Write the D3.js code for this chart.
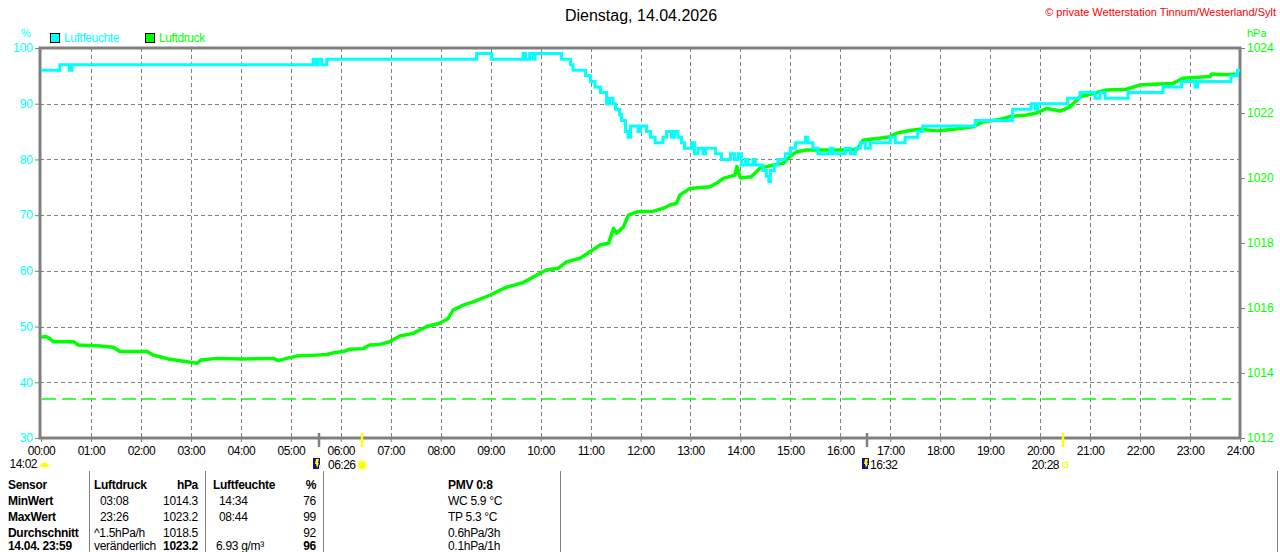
<!DOCTYPE html>
<html>
<head>
<meta charset="utf-8">
<script src="https://cdn.jsdelivr.net/npm/d3@7/dist/d3.min.js"></script>
<style>
  html, body { margin: 0; padding: 0; background: #fff; }
  svg { display: block; font-family: "Liberation Sans", Arial, sans-serif; }
</style>
</head>
<body>
<svg id="chart" width="1280" height="552"></svg>
<script>
// ---------- data ----------
const titleText = "Dienstag, 14.04.2026";
const copyrightText = "© private Wetterstation Tinnum/Westerland/Sylt";
const seriesNames = ["Luftfeuchte", "Luftdruck"];
const hourTicks = d3.range(0, 25);
const humTicks = [30, 40, 50, 60, 70, 80, 90, 100];
const presTicks = [1012, 1014, 1016, 1018, 1020, 1022, 1024];

// Luftfeuchte (%) : time in hours, value
const humTime = [0, 0.38, 0.57, 0.62, 5.45, 5.5, 5.55, 5.62, 5.72, 8.72, 9.02, 9.65, 9.7, 9.78, 9.85, 9.89, 10.42,
  10.6, 10.65, 10.9, 11.0, 11.09, 11.2, 11.32, 11.38, 11.45, 11.5, 11.58, 11.62, 11.7, 11.75, 11.8, 11.95, 12.0,
  12.12, 12.2, 12.29, 12.45, 12.52, 12.62, 12.68, 12.75, 12.82, 12.88, 13.02, 13.08, 13.15, 13.25, 13.3, 13.5,
  13.62, 13.8, 13.88, 13.95, 14.02, 14.1, 14.15, 14.25, 14.3, 14.45, 14.52, 14.57, 14.6, 14.68, 14.75, 14.9,
  15.0, 15.1, 15.3, 15.35, 15.45, 15.55, 15.8, 15.85, 16.1, 16.2, 16.3, 16.4, 16.5, 16.6, 17.0, 17.1, 17.3,
  17.55, 17.65, 18.7, 19.45, 19.82, 19.9, 19.95, 20.55, 20.8, 21.1, 21.2, 21.3, 21.76, 22.46, 22.83, 23.1,
  23.15, 23.82, 23.95, 24];
const humVal = [96, 97, 96, 97, 98, 97, 98, 97, 98, 99, 98, 99, 98, 99, 98, 99, 98,
  97, 96, 95, 94, 93, 92, 90, 91, 90, 89, 88, 87, 85, 84, 86, 85, 86,
  85, 84, 83, 84, 85, 84, 85, 84, 83, 82, 83, 81, 82, 81, 82, 81,
  80, 81, 80, 81, 79, 80, 79, 80, 79, 78, 77, 76, 78, 79, 80, 81,
  82, 83, 84, 83, 82, 81, 82, 81, 82, 81, 82, 83, 82, 83, 84, 83, 84,
  85, 86, 87, 89, 90, 89, 90, 91, 92, 91, 92, 91, 92, 93, 94, 93,
  94, 95, 96, 96];

// Luftdruck (hPa) : time in hours, value
const presTime = [0, 0.1, 0.18, 0.25, 0.65, 0.75, 1.18, 1.45, 1.58, 2.12, 2.25, 2.38, 2.58, 3.13, 3.2, 3.52, 4.0,
  4.65, 4.75, 4.92, 5.12, 5.52, 5.72, 5.85, 6.05, 6.18, 6.45, 6.58, 6.78, 6.98, 7.18, 7.45, 7.72, 7.98, 8.15,
  8.25, 8.45, 8.65, 8.99, 9.32, 9.65, 9.99, 10.12, 10.35, 10.52, 10.79, 10.99, 11.19, 11.36, 11.46, 11.52, 11.66,
  11.76, 11.93, 12.26, 12.46, 12.59, 12.72, 12.79, 12.99, 13.39, 13.52, 13.66, 13.89, 13.93, 14.0, 14.22, 14.39,
  14.66, 14.86, 14.99, 15.13, 15.33, 15.99, 16.33, 16.46, 16.79, 16.99, 17.13, 17.39, 17.59, 17.93, 18.13, 18.39,
  18.66, 18.86, 19.19, 19.39, 19.73, 19.93, 20.13, 20.4, 20.6, 20.8, 21.06, 21.33, 21.73, 21.99, 22.39, 22.66,
  22.86, 23.4, 23.43, 23.73, 23.98];
const presVal = [1015.1, 1015.12, 1015.05, 1014.96, 1014.96, 1014.86, 1014.83, 1014.79, 1014.66, 1014.66, 1014.55,
  1014.5, 1014.42, 1014.3, 1014.4, 1014.45, 1014.43, 1014.45, 1014.38, 1014.45, 1014.52, 1014.55, 1014.57,
  1014.62, 1014.66, 1014.73, 1014.75, 1014.86, 1014.88, 1014.96, 1015.14, 1015.22, 1015.43, 1015.53, 1015.68,
  1015.94, 1016.09, 1016.19, 1016.4, 1016.64, 1016.78, 1017.07, 1017.17, 1017.22, 1017.42, 1017.53, 1017.73,
  1017.94, 1017.99, 1018.45, 1018.3, 1018.5, 1018.86, 1018.96, 1018.98, 1019.07, 1019.17, 1019.22, 1019.48,
  1019.68, 1019.73, 1019.84, 1019.99, 1020.09, 1020.35, 1020.0, 1020.04, 1020.3, 1020.4, 1020.45, 1020.66,
  1020.81, 1020.86, 1020.86, 1020.88, 1021.17, 1021.22, 1021.27, 1021.38, 1021.46, 1021.5, 1021.45, 1021.48,
  1021.52, 1021.58, 1021.73, 1021.8, 1021.89, 1021.94, 1022.0, 1022.14, 1022.06, 1022.19, 1022.5, 1022.6,
  1022.71, 1022.73, 1022.86, 1022.89, 1022.91, 1023.07, 1023.12, 1023.2, 1023.18, 1023.2];

const refPressure = 1013.2;
const sunriseTime = 6 + 26 / 60, sunsetTime = 20 + 28 / 60;
const moonriseTime = 5 + 34 / 60, moonsetTime = 16 + 32 / 60;
const dayLength = "14:02", sunriseLabel = "06:26", sunsetLabel = "20:28", moonsetLabel = "16:32";

// table
const tableCol0 = ["Sensor", "MinWert", "MaxWert", "Durchschnitt", "14.04. 23:59"];
const tableCol1 = ["Luftdruck", "03:08", "23:26", "^1.5hPa/h", "veränderlich"];
const tableCol2 = ["hPa", "1014.3", "1023.2", "1018.5", "1023.2"];
const tableCol3 = ["Luftfeuchte", "14:34", "08:44", "", "6.93 g/m³"];
const tableCol4 = ["%", "76", "99", "92", "96"];
const tableCol5 = ["PMV 0:8", "WC 5.9 °C", "TP 5.3 °C", "0.6hPa/3h", "0.1hPa/1h"];

// ---------- drawing ----------
const svg = d3.select("#chart");
const CYAN = "#00ffff", GREEN = "#00ff00", GRAY = "#808080";
const L = 40, R = 1240, T = 48, B = 438;

const x = d3.scaleLinear().domain([0, 24]).range([L + 1, R]);
const yH = d3.scaleLinear().domain([30, 100]).range([B, T]);
const yP = d3.scaleLinear().domain([1012, 1024]).range([B, T]);

svg.append("rect").attr("width", 1280).attr("height", 552).attr("fill", "#fff");

// grid
const grid = svg.append("g").attr("stroke", GRAY).attr("stroke-width", 1).attr("stroke-dasharray", "4,3");
grid.selectAll("line.h").data(humTicks.slice(1, -1)).join("line")
  .attr("x1", L).attr("x2", R).attr("y1", d => Math.round(yH(d)) + 0.5).attr("y2", d => Math.round(yH(d)) + 0.5);
grid.selectAll("line.v").data(hourTicks.slice(1, -1)).join("line")
  .attr("x1", d => Math.round(x(d)) + 0.5).attr("x2", d => Math.round(x(d)) + 0.5).attr("y1", T).attr("y2", B);

// reference pressure dashed line
svg.append("line").attr("x1", L + 2).attr("x2", 1231)
  .attr("y1", yP(refPressure)).attr("y2", yP(refPressure))
  .attr("stroke", GREEN).attr("stroke-width", 1.5).attr("stroke-dasharray", "14,6");

// axes
const axisFont = g => g.selectAll("text").attr("font-size", 12).attr("font-family", "Liberation Sans, Arial, sans-serif");
const gx = svg.append("g").attr("transform", `translate(0,${B})`)
  .call(d3.axisBottom(x).tickValues(hourTicks).tickSize(4).tickPadding(4)
    .tickFormat(d => String(d).padStart(2, "0") + ":00"));
gx.select(".domain").remove();
gx.selectAll("line").attr("stroke", GRAY);
gx.call(axisFont); gx.selectAll("text").attr("fill", "#000").attr("letter-spacing", "-0.5px");

const gl = svg.append("g").attr("transform", `translate(${L},0)`)
  .call(d3.axisLeft(yH).tickValues(humTicks).tickSize(5).tickPadding(2).tickFormat(d3.format("d")));
gl.select(".domain").remove();
gl.selectAll("line").attr("stroke", GRAY);
gl.call(axisFont); gl.selectAll("text").attr("fill", CYAN);

const gr = svg.append("g").attr("transform", `translate(${R},0)`)
  .call(d3.axisRight(yP).tickValues(presTicks).tickSize(5).tickPadding(2).tickFormat(d3.format("d")));
gr.select(".domain").remove();
gr.selectAll("line").attr("stroke", GRAY);
gr.call(axisFont); gr.selectAll("text").attr("fill", GREEN);

// frame
svg.append("rect").attr("x", L).attr("y", T).attr("width", R - L).attr("height", B - T)
  .attr("fill", "none").attr("stroke", GRAY).attr("stroke-width", 3);

// series lines
const humData = humTime.map((t, i) => [t, humVal[i]]);
const presData = presTime.map((t, i) => [t, presVal[i]]);
svg.append("path").datum(presData)
  .attr("d", d3.line().x(d => x(d[0])).y(d => yP(d[1])).curve(d3.curveLinear))
  .attr("fill", "none").attr("stroke", GREEN).attr("stroke-width", 3.5).attr("stroke-linejoin", "round");
svg.append("path").datum(humData)
  .attr("d", d3.line().x(d => x(d[0])).y(d => yH(d[1])).curve(d3.curveStepAfter))
  .attr("fill", "none").attr("stroke", CYAN).attr("stroke-width", 3);

// title & copyright
svg.append("text").attr("x", 641).attr("y", 21).attr("text-anchor", "middle")
  .attr("font-size", 16).attr("fill", "#000").text(titleText);
svg.append("text").attr("x", 1276).attr("y", 16).attr("text-anchor", "end")
  .attr("font-size", 11).attr("fill", "#ff0000").text(copyrightText);

// unit labels
svg.append("text").attr("x", 26).attr("y", 37).attr("text-anchor", "middle")
  .attr("font-size", 11).attr("fill", CYAN).text("%");
svg.append("text").attr("x", 1247).attr("y", 37)
  .attr("font-size", 11).attr("fill", GREEN).text("hPa");

// legend
const legX = [50, 145], legCol = [CYAN, GREEN];
seriesNames.forEach((n, i) => {
  svg.append("rect").attr("x", legX[i] + 0.5).attr("y", 33.5).attr("width", 9).attr("height", 9)
    .attr("fill", legCol[i]).attr("stroke", "#000").attr("stroke-width", 1);
  svg.append("text").attr("x", legX[i] + 14).attr("y", 42).attr("font-size", 12)
    .attr("letter-spacing", "-0.4px").attr("fill", legCol[i]).text(n);
});

// sun / moon markers on axis
[sunriseTime, sunsetTime].forEach(t => {
  svg.append("line").attr("x1", Math.round(x(t))).attr("x2", Math.round(x(t)))
    .attr("y1", 433).attr("y2", 447).attr("stroke", "#ffff00").attr("stroke-width", 2.5);
});
[moonriseTime, moonsetTime].forEach(t => {
  svg.append("line").attr("x1", Math.round(x(t))).attr("x2", Math.round(x(t)))
    .attr("y1", 433).attr("y2", 447).attr("stroke", GRAY).attr("stroke-width", 2.5);
});

// icons
function moonIcon(cx) {
  const g = svg.append("g").attr("transform", `translate(${cx},458)`);
  g.append("rect").attr("x", 0).attr("y", 0).attr("width", 7).attr("height", 11).attr("fill", "#101080");
  g.append("path").attr("d", "M3,1 L6,1 L5,5 L6,5 L4,10 L3,6 L2,6 Z").attr("fill", "#ffff00");
  g.append("rect").attr("x", 6).attr("y", 7).attr("width", 2).attr("height", 4).attr("fill", "#e8e8f0");
}
moonIcon(Math.round(x(moonriseTime)) - 6);
moonIcon(Math.round(x(moonsetTime)) - 5);

// sunrise sun icon
(function () {
  const cx = Math.round(x(sunriseTime)), cy = 465;
  const g = svg.append("g");
  d3.range(8).forEach(k => {
    const a = k * Math.PI / 4;
    g.append("line").attr("x1", cx + Math.cos(a) * 4).attr("y1", cy + Math.sin(a) * 4)
      .attr("x2", cx + Math.cos(a) * 6).attr("y2", cy + Math.sin(a) * 6)
      .attr("stroke", "#ffff80").attr("stroke-width", 1.2);
  });
  g.append("circle").attr("cx", cx).attr("cy", cy).attr("r", 4).attr("fill", "#ffff00");
})();
// sunset icon
svg.append("rect").attr("x", Math.round(x(sunsetTime)) - 0.5).attr("y", 462.5).attr("width", 5).attr("height", 5)
  .attr("fill", "none").attr("stroke", "#ffff00").attr("stroke-width", 1);
// day length half sun
svg.append("path").attr("d", "M40,467 A4.5,4.5 0 0 1 49,467 Z").attr("fill", "#ffff00");

const lblSize = 12;
svg.append("text").attr("x", 37).attr("y", 468).attr("text-anchor", "end").attr("font-size", lblSize)
  .attr("letter-spacing", "-0.5px").text(dayLength);
svg.append("text").attr("x", 328).attr("y", 469).attr("font-size", lblSize)
  .attr("letter-spacing", "-0.5px").text(sunriseLabel);
svg.append("text").attr("x", 870).attr("y", 469).attr("font-size", lblSize)
  .attr("letter-spacing", "-0.5px").text(moonsetLabel);
svg.append("text").attr("x", 1059).attr("y", 469).attr("text-anchor", "end").attr("font-size", lblSize)
  .attr("letter-spacing", "-0.5px").text(sunsetLabel);

// table separators
[89, 205, 323, 560, 1277].forEach(sx => {
  svg.append("line").attr("x1", sx + 0.5).attr("x2", sx + 0.5).attr("y1", 471).attr("y2", 552)
    .attr("stroke", GRAY).attr("stroke-width", 1);
});

// table text
const rowY = [489, 505, 521, 537, 550];
function col(arr, xPos, anchor, boldFn) {
  arr.forEach((t, i) => {
    if (!t) return;
    svg.append("text").attr("x", xPos).attr("y", rowY[i]).attr("text-anchor", anchor)
      .attr("font-size", 12).attr("letter-spacing", "-0.3px")
      .attr("font-weight", boldFn(i) ? "bold" : "normal").attr("fill", "#000").text(t);
  });
}
col(tableCol0, 8, "start", i => true);
col(tableCol1, 94, "start", i => i === 0);
svg.selectAll("text").filter(function () { return ["03:08", "23:26"].includes(this.textContent); })
  .attr("x", 100);
col(tableCol2, 198, "end", i => i === 0 || i === 4);
col(tableCol3, 213, "start", i => i === 0);
svg.selectAll("text").filter(function () { return ["14:34", "08:44"].includes(this.textContent); })
  .attr("x", 219);
svg.selectAll("text").filter(function () { return this.textContent === "6.93 g/m³"; }).attr("x", 216);
col(tableCol4, 316, "end", i => i === 0 || i === 4);
col(tableCol5, 448, "start", i => i === 0);
</script>
</body>
</html>
